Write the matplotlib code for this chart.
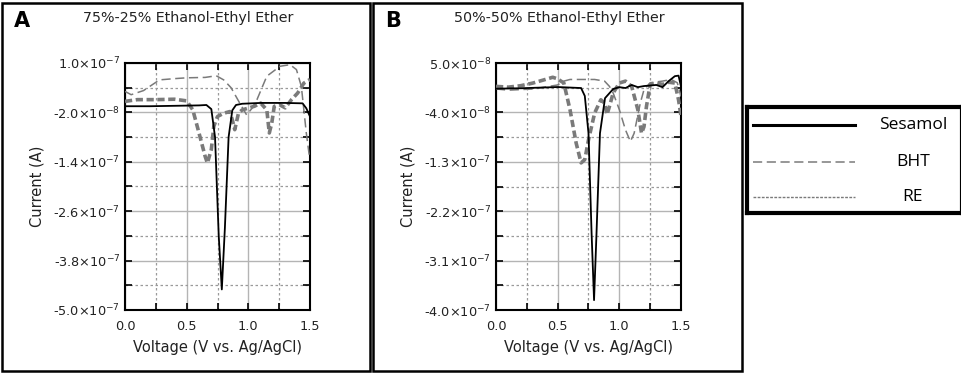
import numpy as np
import matplotlib
matplotlib.use('Agg')
import matplotlib.pyplot as plt
from matplotlib.patches import Rectangle
from matplotlib.ticker import FixedLocator, FuncFormatter

# ---- panel A: 75%-25% Ethanol-Ethyl Ether (current in A) ----
a_ses_v = [0.0, 0.2, 0.4, 0.6, 0.66, 0.70, 0.73, 0.76, 0.785, 0.81, 0.84, 0.87, 0.90, 0.95, 1.1, 1.3, 1.44, 1.47, 1.5]
a_ses_i = [-5e-9, -5e-9, -4e-9, -3e-9, -2e-9, -1.2e-8, -8e-8, -3.2e-7, -4.5e-7, -3.0e-7, -8e-8, -1.5e-8, -2e-9, 1e-9, 3e-9, 3e-9, 2e-9, -1e-8, -3e-8]

a_bht_v = [0.0, 0.05, 0.15, 0.28, 0.4, 0.5, 0.65, 0.74, 0.8, 0.86, 0.93, 0.986, 1.03, 1.07, 1.15, 1.257, 1.338, 1.39, 1.43, 1.47, 1.495]
a_bht_i = [3.1e-8, 2.3e-8, 3.3e-8, 5.9e-8, 6.2e-8, 6.4e-8, 6.5e-8, 6.9e-8, 5.9e-8, 4e-8, 2.7e-9, -2.6e-8, -1e-8, 1.1e-8, 6.8e-8, 9.2e-8, 9.6e-8, 8.4e-8, 4.3e-8, -7e-8, -1.27e-7]

a_re_v = [0.0, 0.1, 0.25, 0.4, 0.5, 0.55, 0.6, 0.65, 0.668, 0.7, 0.72, 0.75, 0.8, 0.85, 0.87, 0.89, 0.92, 0.95, 1.0, 1.05, 1.1, 1.15, 1.17, 1.19, 1.21, 1.25, 1.3, 1.35, 1.4, 1.45, 1.5]
a_re_i = [6.8e-9, 1.1e-8, 1.1e-8, 1.2e-8, 8e-9, -1.4e-8, -7e-8, -1.27e-7, -1.43e-7, -1.1e-7, -5.4e-8, -3e-8, -2.2e-8, -1.8e-8, -3.8e-8, -6.2e-8, -2.2e-8, -1.4e-8, -9.5e-9, -5e-9, 2.7e-9, -1.4e-8, -7e-8, -4.6e-8, -5.4e-9, -1e-9, -9e-9, 1.1e-8, 2.7e-8, 5.1e-8, 6e-8]

# ---- panel B: 50%-50% Ethanol-Ethyl Ether ----
b_ses_v = [0.0, 0.2, 0.5, 0.69, 0.72, 0.75, 0.775, 0.795, 0.815, 0.843, 0.884, 0.95, 1.0, 1.05, 1.1, 1.15, 1.2, 1.3, 1.35, 1.4, 1.45, 1.48, 1.5]
b_ses_i = [3.2e-9, 4e-9, 6.2e-9, 4.4e-9, -1e-8, -7.8e-8, -2.6e-7, -3.82e-7, -2.6e-7, -7.8e-8, -1.4e-8, 2.6e-9, 6e-9, 4.4e-9, 1e-8, 6e-9, 8e-9, 1e-8, 6e-9, 1.7e-8, 2.6e-8, 2.7e-8, 7.4e-9]

b_bht_v = [0.0, 0.1, 0.3, 0.5, 0.55, 0.6, 0.8, 0.88, 0.92, 0.95, 1.0, 1.05, 1.09, 1.12, 1.17, 1.2, 1.25, 1.35, 1.42, 1.47, 1.5]
b_bht_i = [2.6e-9, 0.5e-9, 2.6e-9, 1e-8, 1.7e-8, 2e-8, 2e-8, 1.7e-8, 7.4e-9, -4.7e-9, -3.5e-8, -7.2e-8, -9.3e-8, -7.8e-8, -2.3e-8, 1.4e-9, 1.4e-8, 1.7e-8, 2e-8, 1.4e-8, -1.1e-8]

b_re_v = [0.0, 0.1, 0.2, 0.3, 0.4, 0.46, 0.5, 0.55, 0.6, 0.65, 0.69, 0.72, 0.75, 0.8, 0.85, 0.88, 0.9, 0.92, 0.95, 1.0, 1.05, 1.1, 1.15, 1.18, 1.2, 1.22, 1.25, 1.3, 1.35, 1.4, 1.45, 1.48, 1.5]
b_re_i = [7.4e-9, 6e-9, 8.6e-9, 1.35e-8, 2e-8, 2.4e-8, 2.1e-8, 1.35e-8, -3.5e-8, -9.6e-8, -1.32e-7, -1.26e-7, -9e-8, -4.1e-8, -1.7e-8, -2.3e-8, -4.4e-8, -2.9e-8, -4.7e-9, 1.35e-8, 1.7e-8, 7.4e-9, -3.5e-8, -7.8e-8, -6.6e-8, -2.9e-8, 1.1e-8, 1.35e-8, 1.1e-8, 1.5e-8, 1.35e-8, -1.7e-8, -4.7e-8]

a_yticks = [-5.0e-7, -3.8e-7, -2.6e-7, -1.4e-7, -2.0e-8, 1.0e-7]
b_yticks = [-4.0e-7, -3.1e-7, -2.2e-7, -1.3e-7, -4.0e-8, 5.0e-8]
xticks = [0.0, 0.5, 1.0, 1.5]
titles = ['75%-25% Ethanol-Ethyl Ether', '50%-50% Ethanol-Ethyl Ether']
panel_tags = ['A', 'B']
legend_names = ['Sesamol', 'BHT', 'RE']


def sci_label(v, pos=None):
    exp = int(np.floor(np.log10(abs(v))))
    mant = v / 10 ** exp
    return f'{mant:.1f}' + r'$\times$10$^{' + str(exp) + '}$'


W, H = 962, 374
fig = plt.figure(figsize=(W / 100, H / 100), dpi=100)

ax_left = [125, 496]
panels = [
    (a_ses_v, a_ses_i, a_bht_v, a_bht_i, a_re_v, a_re_i, a_yticks),
    (b_ses_v, b_ses_i, b_bht_v, b_bht_i, b_re_v, b_re_i, b_yticks),
]

for k, (sv, si, bv, bi, rv, ri, yt) in enumerate(panels):
    ax = fig.add_axes([ax_left[k] / W, 1 - 310 / H, 185 / W, 247 / H])
    ax.plot(bv, bi, color='#7a7a7a', linestyle=(0, (6, 3)), linewidth=1.1, zorder=3)
    ax.plot(rv, ri, color='#7a7a7a', linestyle=(0, (2, 1)), linewidth=2.6, zorder=4)
    ax.plot(sv, si, color='black', linewidth=1.3, zorder=5)

    step = yt[1] - yt[0]
    ax.set_xlim(0, 1.5)
    ax.set_ylim(yt[0], yt[-1])
    ax.xaxis.set_major_locator(FixedLocator(xticks))
    ax.xaxis.set_minor_locator(FixedLocator([0.25, 0.75, 1.25]))
    ax.yaxis.set_major_locator(FixedLocator(yt))
    ax.yaxis.set_minor_locator(FixedLocator([t + step / 2 for t in yt[:-1]]))
    ax.yaxis.set_major_formatter(FuncFormatter(sci_label))
    ax.xaxis.set_major_formatter(FuncFormatter(lambda v, p: f'{v:.1f}'))

    ax.grid(which='major', color='#b4b4b4', linewidth=1.0, linestyle='-')
    ax.grid(which='minor', color='#9a9a9a', linewidth=0.9, linestyle=(0, (2, 2)))
    ax.set_axisbelow(True)
    ax.tick_params(which='both', direction='in', top=True, right=True,
                   length=5, width=1.2, labelsize=9.3, colors='black',
                   labelcolor='#222222')
    ax.tick_params(axis='x', pad=7)
    for s in ax.spines.values():
        s.set_linewidth(1.5)

    ax.set_xlabel('Voltage (V vs. Ag/AgCl)', fontsize=10.5, color='#222222', labelpad=5)
    ax.set_ylabel('Current (A)', fontsize=10.5, color='#222222', labelpad=6)

    # panel frame, tag and title
    x0 = 2 if k == 0 else 373
    x1 = 370 if k == 0 else 742
    fig.add_artist(Rectangle((x0 / W, 3 / H), (x1 - x0) / W, (H - 6) / H,
                             transform=fig.transFigure, fill=False,
                             edgecolor='black', linewidth=1.8))
    fig.text((x0 + 12) / W, 1 - 21 / H, panel_tags[k], fontsize=15,
             fontweight='bold', va='center', ha='left')
    fig.text((x0 + 186) / W, 1 - 18 / H, titles[k], fontsize=10.3,
             va='center', ha='center', color='#222222')

# legend box drawn as its own axes
lax = fig.add_axes([747 / W, 1 - 213 / H, (W - 747) / W, 106 / H])
lax.set_xlim(747, W)
lax.set_ylim(213, 107)
lax.set_xticks([])
lax.set_yticks([])
for s in lax.spines.values():
    s.set_linewidth(3)
styles = [
    dict(color='black', linestyle='-', linewidth=2.2),
    dict(color='#7a7a7a', linestyle=(0, (6, 3)), linewidth=1.1),
    dict(color='#7a7a7a', linestyle=(0, (2, 1)), linewidth=1.0),
]
rows = [125, 162, 197]
for name, st, yy in zip(legend_names, styles, rows):
    lax.plot([753, 855], [yy, yy], **st)
    lax.text(913, yy, name, fontsize=12.5, family='Open Sans', ha='center', va='center')

fig.savefig('out.png', dpi=100)
